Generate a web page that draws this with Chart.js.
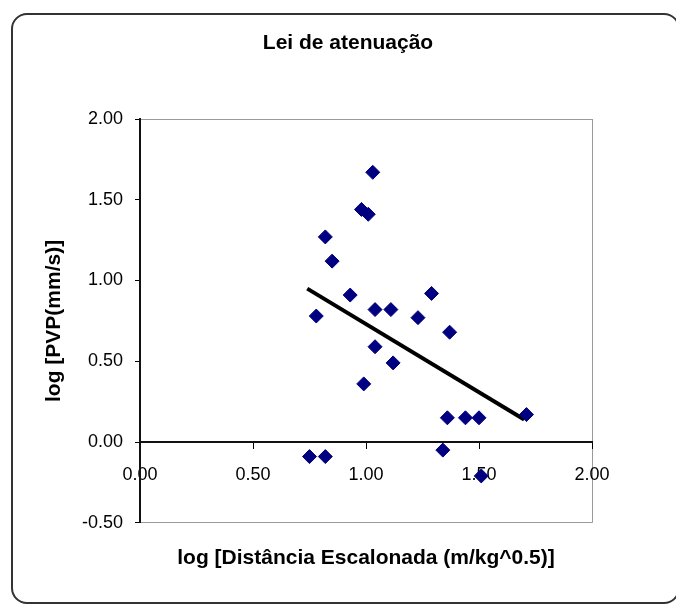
<!DOCTYPE html>
<html lang="pt">
<head>
<meta charset="UTF-8">
<title>Lei de atenuação</title>
<script src="https://cdn.jsdelivr.net/npm/chart.js@4"></script>
<style>
  html, body { margin: 0; padding: 0; background: #fff; overflow: hidden; }
  #wrap { position: relative; width: 676px; height: 604px; overflow: hidden; }
  #frame {
    position: absolute; left: 11px; top: 13px; width: 665px; height: 587px;
    border: 2px solid #333; border-radius: 16px; box-sizing: content-box;
  }
  canvas { position: absolute; left: 0; top: 0; }
</style>
</head>
<body>
<div id="wrap">
  <div id="frame"></div>
  <canvas id="chart" width="676" height="604"></canvas>
</div>
<script>
// valores
const distLog = [0.82, 0.85, 0.93, 0.78, 1.03, 0.98, 1.01, 1.29, 1.04, 1.11, 1.23, 1.37,
                 1.04, 1.12, 0.99, 1.36, 1.44, 1.50, 1.71, 1.34, 1.51, 0.75, 0.82];
const pvpLog  = [1.27, 1.12, 0.91, 0.78, 1.67, 1.44, 1.41, 0.92, 0.82, 0.82, 0.77, 0.68,
                 0.59, 0.49, 0.36, 0.15, 0.15, 0.15, 0.17, -0.05, -0.21, -0.09, -0.09];

// linha de tendência (extremos)
const trendX = [0.74, 1.70];
const trendY = [0.95, 0.14];

const xTicks = [0, 0.5, 1, 1.5, 2];
const yTicks = [-0.5, 0, 0.5, 1, 1.5, 2];

const chartTitle = 'Lei de atenuação';
const xTitle = 'log [Distância Escalonada (m/kg^0.5)]';
const yTitle = 'log [PVP(mm/s)]';

Chart.defaults.font.family = '"Liberation Sans", Arial, sans-serif';
Chart.defaults.color = '#000';

const clear = 'rgba(0,0,0,0)';
const frameGray = '#9a9a9a';

// título principal centrado na moldura
const mainTitle = {
  id: 'mainTitle',
  afterDraw(chart) {
    const ctx = chart.ctx;
    ctx.save();
    ctx.font = 'bold 21px "Liberation Sans", Arial, sans-serif';
    ctx.fillStyle = '#000';
    ctx.textAlign = 'center';
    ctx.textBaseline = 'alphabetic';
    ctx.fillText(chartTitle, 348, 49);
    ctx.restore();
  }
};

new Chart(document.getElementById('chart'), {
  type: 'scatter',
  data: {
    datasets: [
      {
        label: 'PVP',
        data: distLog.map((x, i) => ({ x: x, y: pvpLog[i] })),
        pointStyle: 'rectRot',
        pointRadius: 7,
        pointHoverRadius: 7,
        backgroundColor: '#000080',
        borderColor: '#000080',
        borderWidth: 1,
        order: 1
      },
      {
        label: 'Tendência',
        type: 'line',
        data: trendX.map((x, i) => ({ x: x, y: trendY[i] })),
        borderColor: '#000',
        borderWidth: 4,
        pointRadius: 0,
        fill: false,
        order: 2
      }
    ]
  },
  options: {
    responsive: false,
    animation: false,
    devicePixelRatio: 1,
    layout: { padding: { top: 119, left: 30, right: 84, bottom: 33 } },
    plugins: {
      legend: { display: false },
      tooltip: { enabled: false },
      title: { display: false },
      subtitle: {
        display: true,
        position: 'bottom',
        fullSize: false,
        text: xTitle,
        color: '#000',
        font: { size: 21, weight: 'bold' },
        padding: { top: 23, bottom: 0 }
      }
    },
    scales: {
      x: {
        type: 'linear',
        position: { y: 0 },
        min: 0,
        max: 2,
        afterBuildTicks: s => { s.ticks = xTicks.map(v => ({ value: v })); },
        ticks: {
          font: { size: 18 },
          color: '#000',
          padding: 16,
          maxRotation: 0,
          callback: v => v.toFixed(2)
        },
        grid: {
          drawOnChartArea: true,
          color: c => (c.tick && c.tick.value === 2) ? frameGray : clear,
          tickColor: '#000',
          tickLength: 6,
          lineWidth: 1
        },
        border: { color: '#111', width: 2 }
      },
      y: {
        type: 'linear',
        position: 'left',
        min: -0.5,
        max: 2,
        afterBuildTicks: s => { s.ticks = yTicks.map(v => ({ value: v })); },
        afterFit: s => { s.width = 110; },
        ticks: {
          font: { size: 18 },
          color: '#000',
          padding: 12,
          callback: v => v.toFixed(2)
        },
        grid: {
          drawOnChartArea: true,
          color: c => (c.tick && (c.tick.value === 2 || c.tick.value === -0.5)) ? frameGray : clear,
          tickColor: '#000',
          tickLength: 5,
          lineWidth: 1
        },
        border: { color: '#111', width: 2 },
        title: {
          display: true,
          text: yTitle,
          color: '#000',
          font: { size: 21, weight: 'bold' },
          padding: { top: 12, bottom: 0 }
        }
      }
    }
  },
  plugins: [mainTitle]
});
</script>
</body>
</html>
